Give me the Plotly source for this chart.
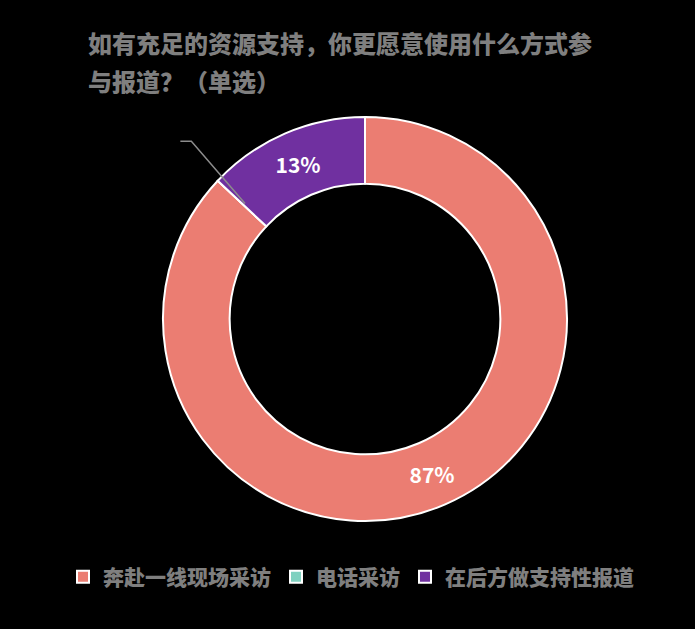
import math
import plotly.graph_objects as go

# DATA
labels = ["奔赴一线现场采访", "电话采访", "在后方做支持性报道"]
values = [87, 0, 13]
colors = ["#EB7D72", "#7FD1C0", "#7030A0"]
title_lines = ["如有充足的资源支持，你更愿意使用什么方式参", "与报道？（单选）"]

W, H = 695, 629
FONT = "Noto Sans CJK SC"
GRAY = "#7f7f7f"

# pie placement in pixels
cx, cy, R = 365, 319, 202
hole = 0.67

fig = go.Figure(go.Pie(
    labels=labels,
    values=values,
    sort=False,
    direction="clockwise",
    rotation=0,
    hole=hole,
    marker=dict(colors=colors, line=dict(color="white", width=2)),
    texttemplate="%{percent:.0%}",
    textposition="inside",
    insidetextorientation="horizontal",
    textfont=dict(family=FONT, size=21, color="white", weight="bold"),
    domain=dict(x=[(cx - R) / W, (cx + R) / W], y=[1 - (cy + R) / H, 1 - (cy - R) / H]),
    hoverinfo="label+percent",
))

# leader line for the zero slice (boundary between slice 1 and 3)
frac = sum(values[:1]) / sum(values)
ang = 2 * math.pi * frac
dx, dy = math.sin(ang), -math.cos(ang)
r_mid = R * (1 + hole) / 2
x_end, y_end = cx + dx * r_mid + 3, cy + dy * r_mid
x_knee, y_knee = cx + dx * R * 1.22 + 6, cy + dy * R * 1.22 - 9
x_start = x_knee - 11


def px(x, y):
    return f"{x / W:.4f},{1 - y / H:.4f}"


fig.add_shape(
    type="path",
    xref="paper", yref="paper",
    path=f"M {px(x_start, y_knee)} L {px(x_knee, y_knee)} L {px(x_end, y_end)}",
    line=dict(color="#8c8c8c", width=1.5),
)

for i, line in enumerate(title_lines):
    fig.add_annotation(
        text=line,
        xref="paper", yref="paper",
        x=86 / W, y=1 - (42 + 38 * i) / H,
        xanchor="left", yanchor="middle",
        showarrow=False,
        font=dict(family=FONT, size=24, color=GRAY, weight=900),
    )

fig.update_layout(
    width=W, height=H,
    margin=dict(l=0, r=0, t=0, b=0),
    paper_bgcolor="black",
    plot_bgcolor="black",
    showlegend=True,
    legend=dict(
        orientation="h",
        x=0.505, xanchor="center",
        y=1 - 577 / H, yanchor="middle",
        font=dict(family=FONT, size=21, color=GRAY, weight=900),
        itemclick=False,
    ),
)

fig.write_html(
    "out.html",
    config={"displayModeBar": False},
    post_script="document.body.style.margin='0';document.body.style.background='black';",
)
